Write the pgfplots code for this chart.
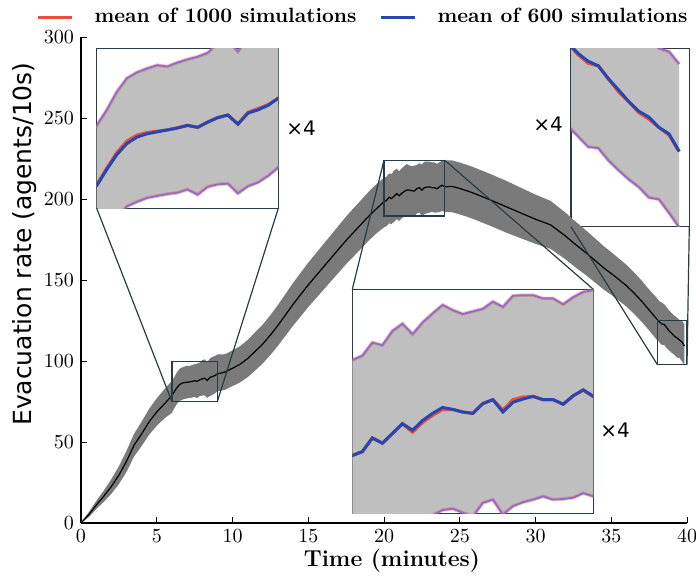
\documentclass[border=0pt]{standalone}
\usepackage{fontspec}
\newfontfamily\djv{DejaVu Sans}
\usepackage{pgfplots}
\pgfplotsset{compat=1.18}
\usepackage{pgfplotstable}
\usepgfplotslibrary{fillbetween}
\definecolor{redm}{RGB}{235,80,60}
\definecolor{bluem}{RGB}{40,70,175}
\definecolor{framec}{RGB}{40,60,70}
\definecolor{edgec}{RGB}{140,110,205}

\pgfplotstableread{
t m b lo hi
0 0 0 0 0.5
0.5 5 5 3.5 6.5
1 11 11 8.5 13.5
1.5 16.5 16.5 13 20
2 22.5 22.5 18 27
2.5 29.5 29.5 24 35
3 38 38 31.5 44.5
3.5 48 48 41 55
4 55 55 47.5 62.5
4.5 62.5 62.5 54.5 70.5
5 68.5 68.5 60 77
5.5 73.5 73.5 64.5 82.5
6.000 78.6 78.5 68.0 87.8
6.167 81.2 81.0 71.0 90.2
6.333 83.6 83.3 73.5 93.0
6.500 85.4 85.0 75.3 95.1
6.667 86.3 86.0 76.0 96.0
6.833 86.7 86.5 76.6 96.6
7.000 86.9 86.8 76.9 97.1
7.167 87.1 87.1 77.2 96.9
7.333 87.4 87.4 77.4 97.5
7.500 87.8 87.8 77.9 98.0
7.667 87.5 87.5 77.1 98.4
7.833 88.3 88.3 78.3 99.0
8.000 89.0 89.0 78.7 100.5
8.167 89.4 89.4 78.8 101.0
8.333 88.0 88.0 77.3 99.2
8.500 89.8 89.7 78.4 101.5
8.667 90.4 90.2 79.0 102.5
8.833 91.0 90.9 80.0 103.0
9.000 92.0 92.0 81.3 104.0
9.5 93.2 93.2 82.2 104.2
10 95.5 95.5 84.5 106.5
10.5 98 98 86.8 109.2
11 101.5 101.5 90 113
11.5 106 106 94.2 117.8
12 110.5 110.5 98.5 122.5
12.5 116 116 103.7 128.3
13 122 122 109.4 134.6
13.5 128.5 128.5 115.6 141.4
14 135 135 121.8 148.2
14.5 141 141 127.5 154.5
15 147 147 133.3 160.7
15.5 152.5 152.5 138.6 166.4
16 158 158 143.9 172.1
16.5 163.5 163.5 149.2 177.8
17 169 169 154.5 183.5
17.5 174.5 174.5 159.8 189.2
18 179.5 179.5 164.6 194.4
18.5 184.5 184.5 169.5 199.5
19 189.5 189.5 174.4 204.6
19.5 194 194 178.8 209.2
20.000 198.4 198.4 182.5 213.1
20.167 199.0 199.0 183.2 213.8
20.333 201.1 201.1 185.0 215.8
20.500 200.3 200.3 184.5 215.4
20.667 201.8 201.8 186.0 217.6
20.833 203.3 203.3 187.5 218.7
21.000 202.0 202.3 186.5 217.1
21.167 203.5 203.8 188.0 218.9
21.333 204.6 204.9 189.2 220.3
21.500 205.5 205.8 190.0 221.6
21.667 205.5 205.5 190.2 220.8
21.833 205.1 205.1 189.6 220.2
22.000 204.9 204.9 189.0 220.6
22.167 206.4 206.4 191.1 221.0
22.333 207.0 207.0 191.6 222.1
22.500 205.4 205.1 189.3 221.3
22.667 207.0 206.6 190.6 223.0
22.833 207.4 207.1 191.2 223.1
23.000 207.5 207.5 191.6 223.1
23.167 207.0 207.0 192.1 222.6
23.333 207.0 207.0 191.6 222.6
23.500 206.3 206.3 191.7 221.7
23.667 207.6 207.6 191.9 222.8
23.833 208.5 208.5 192.6 223.6
24.000 207.5 207.5 192.1 223.9
24.5 207.8 207.8 191.8 223.8
25 206.5 206.5 190.5 222.5
25.5 205 205 189 221
26 203.3 203.3 187.3 219.3
26.5 201.4 201.4 185.4 217.4
27 199.5 199.5 183.5 215.5
27.5 197.5 197.5 181.5 213.5
28 195.5 195.5 179.5 211.5
28.5 193.5 193.5 177.7 209.3
29 191.5 191.5 175.9 207.1
29.5 189.5 189.5 174.1 204.9
30 187.5 187.5 172.3 202.7
30.5 185.8 185.8 170.8 200.8
31 184 184 169.2 198.8
31.5 180.5 180.5 165.9 195.1
32 177 177 162.6 191.4
32.5 173 173 158.8 187.2
33 169.3 169.3 155.3 183.3
33.5 165.5 165.5 151.7 179.3
34 161.5 161.5 147.9 175.1
34.5 157.5 157.5 144.1 170.9
35 154 154 140.8 167.2
35.5 150.3 150.3 137.3 163.3
36 146.5 146.5 133.6 159.4
36.5 142 142 129.2 154.8
37 137 137 124.3 149.7
37.5 131.5 131.5 118.9 144.1
38.000 126.0 126.0 113.2 139.0
38.167 124.2 124.4 111.6 137.0
38.333 122.9 123.2 110.0 136.0
38.500 122.5 122.5 109.8 135.0
38.667 120.5 120.5 107.9 133.0
38.833 118.5 118.8 106.4 131.0
39.000 117.0 117.0 105.0 129.5
39.167 115.3 115.5 103.8 128.0
39.333 114.3 114.6 102.2 126.8
39.500 113.0 113.0 101.9 125.2
39.667 111.8 112.0 99.8 124.7
39.833 109.3 109.3 97.6 122.8
}\data

\pgfplotsset{
  insetax/.style={anchor=south west, scale only axis, ticks=none,
    axis background/.style={fill=white},
    axis line style={framec, line width=0.6pt}},
}
\newcommand{\insetplots}{%
  \addplot[draw=none, name path=U] table[x=t,y=hi]{\data};
  \addplot[draw=none, name path=L] table[x=t,y=lo]{\data};
  \addplot[black!25, draw=none] fill between[of=U and L];
  \addplot[redm, opacity=0.35, line width=1.8pt] table[x=t,y=hi]{\data};
  \addplot[redm, opacity=0.35, line width=1.8pt] table[x=t,y=lo]{\data};
  \addplot[edgec, line width=0.9pt] table[x=t,y=hi]{\data};
  \addplot[edgec, line width=0.9pt] table[x=t,y=lo]{\data};
  \addplot[redm, line width=1.6pt] table[x=t,y=m]{\data};
  \addplot[bluem, line width=1.5pt] table[x=t,y=b]{\data};
}

\begin{document}
\begin{tikzpicture}
\begin{axis}[at={(0pt,0pt)}, anchor=south west, scale only axis,
  width=303pt, height=243pt,
  xmin=0, xmax=40, ymin=0, ymax=300,
  axis x line=bottom, axis y line=left,
  axis line style={-, line width=0.6pt},
  tick align=inside, major tick length=3pt,
  xtick={0,5,...,40}, ytick={0,50,...,300},
  tick style={black, line width=0.4pt},
  tick label style={font=\fontsize{10}{12}\selectfont},
  xlabel={Time (minutes)},
  ylabel={Evacuation rate (agents/10s)},
  xlabel style={font=\fontsize{11.5}{13}\selectfont\bfseries,
    at={(axis description cs:0.513,-0.077)}, anchor=center},
  ylabel style={font=\fontsize{12.5}{14}\selectfont\djv,
    at={(axis description cs:-0.0924,0.574)}, anchor=center},
  legend columns=2,
  legend style={draw=none, fill=none,
    at={(axis description cs:0.467,1.041)}, anchor=center,
    font=\fontsize{10.3}{12}\selectfont\bfseries,
    /tikz/every odd column/.append style={column sep=8.5pt},
    /tikz/every even column/.append style={column sep=9.5pt}},
  legend cell align=left,
]
\addlegendimage{redm, line width=1.5pt}
\addlegendentry{mean of 1000 simulations}
\addlegendimage{bluem, line width=1.5pt}
\addlegendentry{mean of 600 simulations}
\addplot[draw=none, name path=MU, forget plot] table[x=t,y=hi]{\data};
\addplot[draw=none, name path=ML, forget plot] table[x=t,y=lo]{\data};
\addplot[black!52, draw=none, forget plot] fill between[of=MU and ML];
\addplot[black, line width=0.6pt, forget plot] table[x=t,y=m]{\data};
\draw[framec, line width=0.6pt] (axis cs:6,75) rectangle (axis cs:9,99.7);
\draw[framec, line width=0.6pt] (axis cs:20,189.5) rectangle (axis cs:24,224);
\draw[framec, line width=0.6pt] (axis cs:38.05,97.7) rectangle (axis cs:40,125.2);
\coordinate (a1) at (axis cs:6,75);
\coordinate (a2) at (axis cs:9,75);
\coordinate (b1) at (axis cs:20,224);
\coordinate (b2) at (axis cs:24,224);
\coordinate (c1) at (axis cs:38.05,97.7);
\coordinate (c2) at (axis cs:40,97.7);
\end{axis}
\draw[framec, line width=0.6pt] (7.85pt,157.35pt) -- (a1);
\draw[framec, line width=0.6pt] (98.65pt,157.35pt) -- (a2);
\draw[framec, line width=0.6pt] (135.65pt,116.85pt) -- (b1);
\draw[framec, line width=0.6pt] (256.15pt,116.85pt) -- (b2);
\draw[framec, line width=0.6pt] (245pt,148.15pt) -- (c1);
\draw[framec, line width=0.6pt] (304.15pt,148.15pt) -- (c2);

\begin{axis}[insetax, at={(7.85pt,157.35pt)}, width=90.8pt, height=80pt,
  xmin=6, xmax=9, ymin=75, ymax=99.7]
\insetplots
\end{axis}
\begin{axis}[insetax, at={(135.65pt,4.85pt)}, width=120.5pt, height=112pt,
  xmin=20, xmax=24, ymin=189.5, ymax=224]
\insetplots
\end{axis}
\begin{axis}[insetax, at={(245pt,148.15pt)}, width=59.15pt, height=89.2pt,
  xmin=38.05, xmax=40, ymin=97.7, ymax=125.2]
\insetplots
\end{axis}
\node[font=\fontsize{10}{12}\selectfont\djv] at (110pt,197.5pt) {×4};
\node[font=\fontsize{10}{12}\selectfont\djv] at (267pt,46.5pt) {×4};
\node[font=\fontsize{10}{12}\selectfont\djv] at (233.5pt,199.5pt) {×4};
\pgfresetboundingbox
\useasboundingbox (-40.5pt,-26pt) rectangle (307.5pt,261.5pt);
\end{tikzpicture}
\end{document}
